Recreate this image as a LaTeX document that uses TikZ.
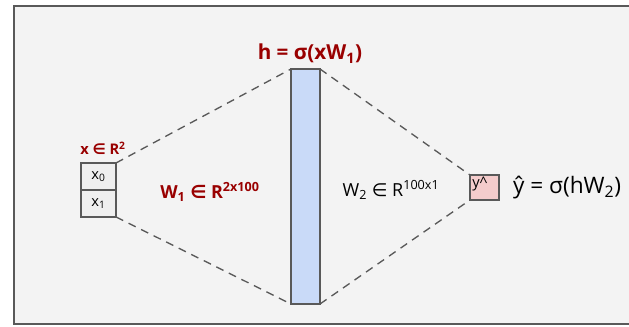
\documentclass[tikz,border=0pt]{standalone}
\usepackage{fontspec}
\setmainfont{Open Sans}
\newfontfamily\symfont{DejaVu Sans}
\usetikzlibrary{positioning}
\definecolor{nnred}{RGB}{153,0,0}
\definecolor{nnline}{RGB}{89,89,89}
\definecolor{nnbg}{RGB}{243,243,243}
\definecolor{nncell}{RGB}{239,239,239}
\definecolor{nnblue}{RGB}{201,218,248}
\definecolor{nnpink}{RGB}{244,204,204}
\newcommand{\elem}{{\symfont\char"2208}}

\begin{document}
\begin{tikzpicture}[x=0.75pt,y=-0.75pt,
    cell/.style={draw=nnline,line width=1.4pt,fill=nncell,outer sep=0pt,inner sep=0pt,
      minimum width=26.25pt,minimum height=20.25pt,font=\fontsize{11}{12}\selectfont},
    layer/.style={draw=nnline,line width=1.4pt,outer sep=0pt},
    link/.style={draw=nnline,line width=1pt,dash pattern=on 6pt off 4.5pt},
    redlbl/.style={text=nnred,font=\bfseries}]
  \useasboundingbox (0,0) rectangle (629,327);
  \draw[draw=nnline,line width=1.5pt,fill=nnbg] (14,6) rectangle (640,324);
  % input
  \node[cell] (x0) at (98.5,176.5) {x\textsubscript{0}};
  \node[cell] (x1) at (98.5,203.5) {x\textsubscript{1}};
  \node[redlbl,font=\fontsize{11}{12}\selectfont\bfseries] (xlbl) at (103,148) {x \elem{} R\textsuperscript{2}};
  % hidden layer
  \node[layer,fill=nnblue,minimum width=21.75pt,minimum height=176.25pt] (hid) at (305.5,186.5) {};
  \node[redlbl,font=\fontsize{15.5}{17}\selectfont\bfseries] (hlbl) at (310,54) {h = σ(xW\textsubscript{1})};
  % output
  \node[layer,fill=nnpink,minimum width=21.75pt,minimum height=18.75pt] (yhat) at (484.5,187.5) {};
  \node[anchor=north west,inner sep=1.5pt,font=\fontsize{11}{12}\selectfont] (ycap) at (yhat.north west) {y\textasciicircum};
  \node[font=\fontsize{17}{19}\selectfont,right=7pt of yhat] (ylbl) {ŷ = σ(hW\textsubscript{2})};
  % weights
  \node[redlbl,font=\fontsize{13.5}{15}\selectfont\bfseries] (w1) at (210,192) {W\textsubscript{1} \elem{} R\textsuperscript{2x100}};
  \node[font=\fontsize{13.5}{15}\selectfont] (w2) at (391,190) {W\textsubscript{2} \elem{} R\textsuperscript{100x1}};
  \draw[link] (x0.north east) -- (hid.north west);
  \draw[link] (x1.south east) -- (hid.south west);
  \draw[link] (hid.north east) -- (yhat.north west);
  \draw[link] (hid.south east) -- (yhat.south west);
\end{tikzpicture}
\end{document}
